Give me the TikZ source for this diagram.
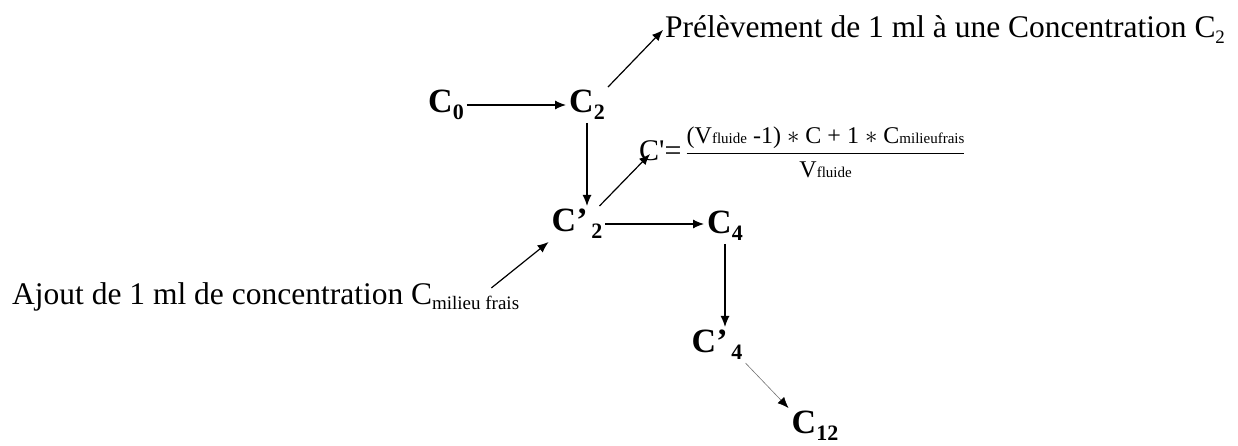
\documentclass[tikz,border=0pt]{standalone}
\usepackage{fontspec}
\setmainfont{Liberation Serif}
\newfontfamily\rawserif{Liberation Serif}
\usepackage{amsmath}
\usetikzlibrary{arrows.meta, positioning}

% subscripts, Word style
\newcommand{\nidx}[1]{\raisebox{-0.45ex}{\fontsize{22}{22}\selectfont #1}}
\newcommand{\tidx}[1]{\raisebox{-0.4ex}{\fontsize{19}{19}\selectfont #1}}
\newcommand{\fidx}[1]{{\fontsize{15}{15}\selectfont #1}}

\begin{document}
\begin{tikzpicture}[
  x=1pt, y=-1pt,
  conc/.style={font=\fontsize{34}{36}\selectfont\bfseries, inner sep=3pt},
  note/.style={font=\fontsize{31.5}{34}\selectfont, inner sep=2pt},
  formula/.style={font=\fontsize{24}{26}\selectfont, inner sep=1pt},
  arrow/.style={-{Latex[length=11pt,width=9pt]}, line width=1.2pt},
  thinarrow/.style={-{Latex[length=11pt,width=9pt,black]}, line width=0.6pt, draw=black!55}
]
\useasboundingbox (0,0) rectangle (1238,446);

% Nodes
\node[conc] (c0) at (446,105) {C\nidx{0}};
\node[conc] (c2) at (587,105) {C\nidx{2}};
\node[conc] (c2p) at (577,224) {C'\nidx{\,2}};
\node[conc] (c4) at (725,226) {C\nidx{4}};
\node[conc] (c4p) at (717,345) {C'\nidx{\,4}};
\node[conc] (c12) at (815,426) {C\nidx{12}};

\node[note, anchor=base west] (prelev) at (663,38) {Prélèvement de 1 ml à une Concentration C\tidx{2}};
\node[note, anchor=base west] (ajout) at (10,304) {Ajout de 1 ml de concentration C\tidx{milieu frais}};
\node[formula, anchor=west] (cf) at (638,152)
  {{\fontsize{30}{30}\selectfont\rawserif C'=}\,$\dfrac{\text{(V\fidx{fluide} -1) $\ast$ C + 1 $\ast$ C\fidx{milieufrais}}}{\text{V\fidx{fluide}}}$};

% Pointers
\draw[arrow] (c0) -- (c2);
\draw[arrow] (c2.north east) -- (prelev.west);
\draw[arrow] (c2.south) -- (c2.south |- c2p.north);
\draw[arrow] ([xshift=-6pt]c2p.north east) -- ([xshift=12pt,yshift=-2pt]cf.west);
\draw[arrow] (c2p.east) -- (c2p.east -| c4.west);
\draw[arrow] ([xshift=-30pt,yshift=-8pt]ajout.north east) -- (c2p.south west);
\draw[arrow] (c4.south) -- (c4.south |- c4p.north);
\draw[thinarrow] (c4p.south east) -- (c12.north west);

\end{tikzpicture}
\end{document}
